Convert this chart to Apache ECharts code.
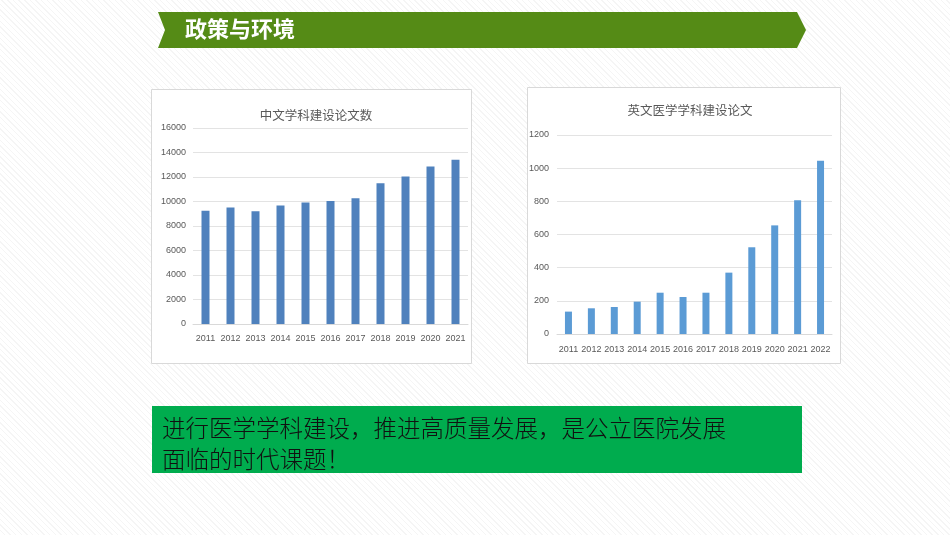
<!DOCTYPE html>
<html><head><meta charset="utf-8">
<script src="https://cdn.jsdelivr.net/npm/echarts@6/dist/echarts.min.js"></script>
<style>
html,body{margin:0;padding:0;}
body{width:950px;height:535px;background:repeating-linear-gradient(45deg,#ffffff 0px,#ffffff 3px,#f5f5f5 3px,#f5f5f5 4px);}
#c{width:950px;height:535px;}
</style></head>
<body><div id="c"></div>
<script>
const cnYears = ['2011','2012','2013','2014','2015','2016','2017','2018','2019','2020','2021'];
const cnValues = [9250, 9510, 9210, 9670, 9920, 10050, 10270, 11500, 12040, 12860, 13400];
const enYears = ['2011','2012','2013','2014','2015','2016','2017','2018','2019','2020','2021','2022'];
const enValues = [135, 155, 163, 195, 249, 223, 249, 370, 523, 655, 806, 1045];
const headerText = '政策与环境';
const cnTitle = '中文学科建设论文数';
const enTitle = '英文医学学科建设论文';
const noteLines = ['进行医学学科建设，推进高质量发展，是公立医院发展', '面临的时代课题！'];

const chart = echarts.init(document.getElementById('c'), null, {renderer:'canvas'});
const axisLabel = {fontSize:9, color:'#595959', fontFamily:'Liberation Sans Narrow, Liberation Sans, sans-serif', formatter: v => String(v)};
const cjk = 'Noto Sans CJK SC, sans-serif';
chart.setOption({
  backgroundColor:'transparent',
  animation:false,
  graphic:[
    {type:'polygon', shape:{points:[[158,12],[797,12],[806,30],[797,48],[158,48],[165,30]]}, style:{fill:'#558B16'}, z:-1},
    {type:'text', left:185, top:18, style:{text:headerText, fill:'#fff', font:'bold 22px '+cjk}},
    {type:'rect', shape:{x:151.5,y:89.5,width:320,height:274}, style:{fill:'#fff', stroke:'#d9d9d9', lineWidth:1}, z:-1},
    {type:'rect', shape:{x:527.5,y:87.5,width:313,height:276}, style:{fill:'#fff', stroke:'#d9d9d9', lineWidth:1}, z:-1},
    {type:'rect', shape:{x:152,y:406,width:650,height:67}, style:{fill:'#00AC4E'}, z:-1},
    {type:'text', left:162, top:413, style:{text:noteLines.join('\n'), fill:'#111', font:'300 23.5px '+cjk, lineHeight:31}}
  ],
  title:[
    {text:cnTitle, left:311, top:104, textAlign:'center', textStyle:{fontSize:12.5, fontWeight:'normal', color:'#595959', fontFamily:cjk}},
    {text:enTitle, left:685, top:99, textAlign:'center', textStyle:{fontSize:12.5, fontWeight:'normal', color:'#595959', fontFamily:cjk}}
  ],
  grid:[
    {left:193, right:482, top:128, bottom:211},
    {left:557, right:118, top:135, bottom:201}
  ],
  xAxis:[
    {type:'category', gridIndex:0, data:cnYears, axisTick:{show:false}, axisLine:{lineStyle:{color:'#d9d9d9'}}, axisLabel:{...axisLabel, interval:0, margin:10}},
    {type:'category', gridIndex:1, data:enYears, axisTick:{show:false}, axisLine:{lineStyle:{color:'#d9d9d9'}}, axisLabel:{...axisLabel, interval:0, margin:11}}
  ],
  yAxis:[
    {type:'value', gridIndex:0, min:0, max:16000, interval:2000, axisLine:{show:false}, axisTick:{show:false}, splitLine:{lineStyle:{color:'#e3e3e3'}}, axisLabel:{...axisLabel, margin:7}},
    {type:'value', gridIndex:1, min:0, max:1200, interval:200, axisLine:{show:false}, axisTick:{show:false}, splitLine:{lineStyle:{color:'#e3e3e3'}}, axisLabel:{...axisLabel, margin:8}}
  ],
  series:[
    {type:'bar', xAxisIndex:0, yAxisIndex:0, data:cnValues, barWidth:8, itemStyle:{color:'#4F81BD'}},
    {type:'bar', xAxisIndex:1, yAxisIndex:1, data:enValues, barWidth:7, itemStyle:{color:'#5B9BD5'}}
  ]
});
</script></body></html>
